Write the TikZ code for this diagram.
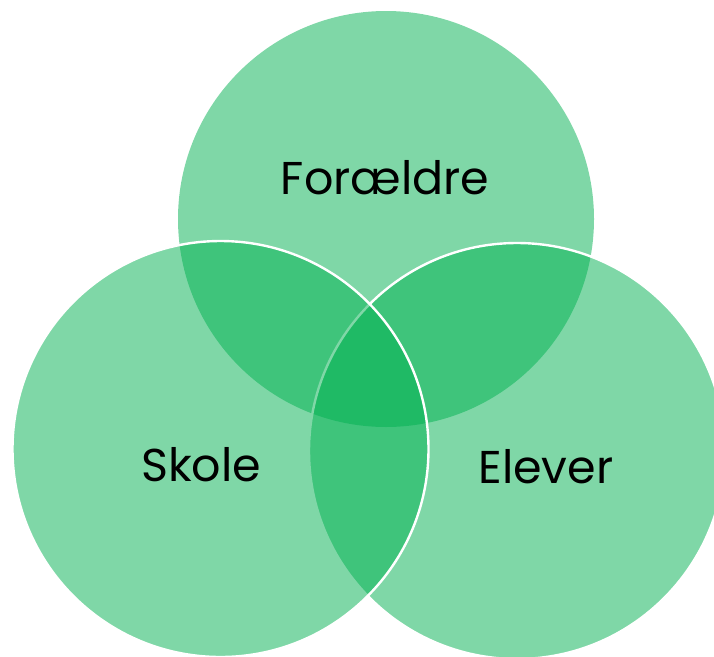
\documentclass[tikz,border=0pt]{standalone}
\usepackage{fontspec}
\setmainfont{Poppins}
\definecolor{vgreen}{HTML}{00B050}
\begin{document}
\begin{tikzpicture}[x=1pt,y=-1pt,
  venn/.style={circle,minimum size=416pt,inner sep=0pt,fill=vgreen,fill opacity=0.5},
  vennline/.style={venn,draw=white,draw opacity=1,line width=2.4pt},
  lbl/.style={anchor=base,font=\fontsize{46}{46}\selectfont,text=black,inner sep=0pt}]
\useasboundingbox (0,0) rectangle (714,656);
\clip (0,0) rectangle (714,656);
\node[venn] (top) at (386,219) {};
\node[vennline] (right) at (517,451) {};
\node[vennline] (left) at (220.5,449) {};
\node[lbl] (tF) at (385,194) {Forældre};
\node[lbl] (tS) at (201,481) {Skole};
\node[lbl] (tE) at (546,483) {Elever};
\end{tikzpicture}
\end{document}
